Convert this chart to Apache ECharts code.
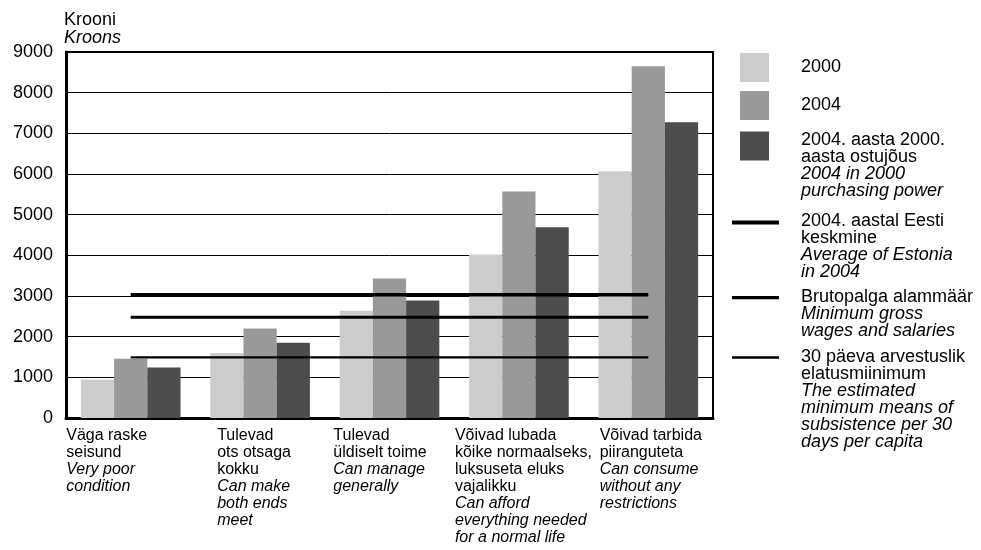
<!DOCTYPE html>
<html>
<head>
<meta charset="utf-8">
<script src="https://cdn.jsdelivr.net/npm/echarts@6/dist/echarts.min.js"></script>
<style>
html, body { margin: 0; padding: 0; background: #fff; }
#chart { width: 981px; height: 550px; }
</style>
</head>
<body>
<div id="chart"></div>
<script>
// ---- data ----
const categoriesEt = [
  'Väga raske\nseisund',
  'Tulevad\nots otsaga\nkokku',
  'Tulevad\nüldiselt toime',
  'Võivad lubada\nkõike normaalseks,\nluksuseta eluks\nvajalikku',
  'Võivad tarbida\npiiranguteta'
];
const categoriesEn = [
  'Very poor\ncondition',
  'Can make\nboth ends\nmeet',
  'Can manage\ngenerally',
  'Can afford\neverything needed\nfor a normal life',
  'Can consume\nwithout any\nrestrictions'
];
const values2000 = [940, 1600, 2640, 4020, 6070];
const values2004 = [1460, 2200, 3430, 5570, 8650];
const values2004in2000 = [1240, 1850, 2890, 4690, 7270];
const avgEstonia2004 = [3030, 3030, 3030, 3030, 3030];
const minGrossWage = [2480, 2480, 2480, 2480, 2480];
const subsistenceMin = [1490, 1490, 1490, 1490, 1490];
const yTicks = [0, 1000, 2000, 3000, 4000, 5000, 6000, 7000, 8000, 9000];

const seriesNames = ['2000', '2004', '2004 in 2000', 'avg', 'minwage', 'subsist'];
const legendEt = ['2000', '2004', '2004. aasta 2000.\naasta ostujõus', '2004. aastal Eesti\nkeskmine', 'Brutopalga alammäär', '30 päeva arvestuslik\nelatusmiinimum'];
const legendEn = ['', '', '2004 in 2000\npurchasing power', 'Average of Estonia\nin 2004', 'Minimum gross\nwages and salaries', 'The estimated\nminimum means of\nsubsistence per 30\ndays per capita'];

// ---- layout / style constants ----
const FONT = '"Liberation Sans", Arial, sans-serif';
// per-category label padding [top, right, bottom, left] to shift the left-aligned text blocks
const xLabelPadding = [[0, 48, 0, 0], [0, 12, 0, 0], [0, 19, 0, 0], [0, 0, 0, 9], [0, 0, 0, 5]];

function richLines(et, en, n, i) {
  const a = et ? et.split('\n').map(s => '{' + n + '|' + s + '}') : [];
  const b = en ? en.split('\n').map(s => '{' + i + '|' + s + '}') : [];
  return a.concat(b).join('\n');
}
const legendNameMap = {};
seriesNames.forEach((s, k) => { legendNameMap[s] = richLines(legendEt[k], legendEn[k], 'n', 'i'); });

const LH = 17;
const LFS = 18;
const legendRich = {
  n: { fontFamily: FONT, fontSize: LFS, lineHeight: LH, color: '#000', align: 'left' },
  i: { fontFamily: FONT, fontSize: LFS, lineHeight: LH, color: '#000', fontStyle: 'italic', align: 'left' }
};
function lineCount(k) {
  return (legendEt[k] ? legendEt[k].split('\n').length : 0) + (legendEn[k] ? legendEn[k].split('\n').length : 0);
}
function mkLegend(k, left, top, icon, w, h) {
  return {
    show: true,
    data: [seriesNames[k]],
    left: left, top: top,
    padding: 0,
    itemWidth: w, itemHeight: h,
    icon: icon,
    itemStyle: { borderWidth: 0 },
    selectedMode: false,
    formatter: name => legendNameMap[name],
    textStyle: { fontFamily: FONT, fontSize: LFS, color: '#000', rich: legendRich }
  };
}
const sqIcon = h => 'path://M0,0H29V29H0Z M56,0L56,0 M0,' + h + 'L0,' + h;
const lnIcon = (y0, t, h) => 'path://M0,' + y0 + 'H47V' + (y0 + t) + 'H0Z M64,0L64,0 M0,' + h + 'L0,' + h;

const h3 = lineCount(2) * LH, h4 = lineCount(3) * LH, h5 = lineCount(4) * LH, h6 = lineCount(5) * LH;
const legends = [
  mkLegend(0, 740, 53, sqIcon(29), 56, 29),
  mkLegend(1, 740, 91, sqIcon(29), 56, 29),
  mkLegend(2, 740, 131, sqIcon(h3), 56, h3),
  mkLegend(3, 732, 212, lnIcon(8, 4, h4), 64, h4),
  mkLegend(4, 732, 288, lnIcon(7.5, 3.3, h5), 64, h5),
  mkLegend(5, 732, 348, lnIcon(7.7, 2.6, h6), 64, h6)
];

const xData = categoriesEt.map((c, k) => ({ value: c, textStyle: { padding: xLabelPadding[k] } }));

const chart = echarts.init(document.getElementById('chart'), null, { renderer: 'canvas' });
chart.setOption({
  animation: false,
  backgroundColor: '#fff',
  title: {
    text: '{n|Krooni}\n{i|Kroons}',
    left: 64, top: 11, padding: 0,
    textStyle: {
      fontWeight: 'normal',
      rich: {
        n: { fontFamily: FONT, fontSize: 18, lineHeight: 18, color: '#000', fontWeight: 'normal' },
        i: { fontFamily: FONT, fontSize: 18, lineHeight: 18, color: '#000', fontWeight: 'normal', fontStyle: 'italic' }
      }
    }
  },
  legend: legends,
  grid: {
    left: 66, right: 268, top: 52, bottom: 132,
    show: true, borderColor: '#000', borderWidth: 2, backgroundColor: 'transparent'
  },
  xAxis: {
    type: 'category',
    data: xData,
    axisLine: { show: true, lineStyle: { color: '#000', width: 3 } },
    axisTick: { show: false },
    axisLabel: {
      interval: 0,
      margin: 9,
      align: 'center',
      formatter: (v, idx) => richLines(categoriesEt[idx], categoriesEn[idx], 'n', 'i'),
      rich: {
        n: { fontFamily: FONT, fontSize: 16, lineHeight: 17, color: '#000', align: 'left' },
        i: { fontFamily: FONT, fontSize: 16, lineHeight: 17, color: '#000', fontStyle: 'italic', align: 'left' }
      }
    }
  },
  yAxis: {
    type: 'value',
    min: yTicks[0], max: yTicks[yTicks.length - 1], interval: 1000,
    axisLine: { show: true, lineStyle: { color: '#000', width: 3 } },
    axisTick: { show: false },
    splitLine: { show: true, lineStyle: { color: '#000', width: 1 } },
    axisLabel: { fontFamily: FONT, fontSize: 18, color: '#000', margin: 13, formatter: v => String(v) }
  },
  series: [
    { name: seriesNames[0], type: 'bar', data: values2000, barGap: '0%', barCategoryGap: '23%', itemStyle: { color: '#cccccc' } },
    { name: seriesNames[1], type: 'bar', data: values2004, itemStyle: { color: '#999999' } },
    { name: seriesNames[2], type: 'bar', data: values2004in2000, itemStyle: { color: '#4d4d4d' } },
    { name: seriesNames[3], type: 'line', data: avgEstonia2004, symbol: 'none', z: 5, color: '#000', lineStyle: { color: '#000', width: 3.5 }, itemStyle: { color: '#000' } },
    { name: seriesNames[4], type: 'line', data: minGrossWage, symbol: 'none', z: 5, color: '#000', lineStyle: { color: '#000', width: 3 }, itemStyle: { color: '#000' } },
    { name: seriesNames[5], type: 'line', data: subsistenceMin, symbol: 'none', z: 5, color: '#000', lineStyle: { color: '#000', width: 2.2 }, itemStyle: { color: '#000' } }
  ]
});
</script>
</body>
</html>
